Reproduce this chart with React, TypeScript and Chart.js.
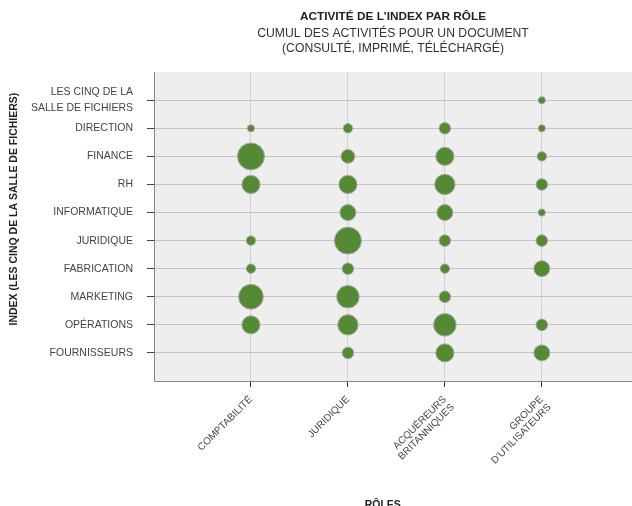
import { useEffect, useRef } from "react";
import { Chart, registerables } from "chart.js";

Chart.register(...registerables);

// Roles (x axis), index names (y axis, top to bottom)
const roles: string[][] = [
  ["COMPTABILITÉ"],
  ["JURIDIQUE"],
  ["ACQUÉREURS", "BRITANNIQUES"],
  ["GROUPE", "D'UTILISATEURS"],
];
const indexes: (string | string[])[] = [
  ["LES CINQ DE LA", "SALLE DE FICHIERS"],
  "DIRECTION",
  "FINANCE",
  "RH",
  "INFORMATIQUE",
  "JURIDIQUE",
  "FABRICATION",
  "MARKETING",
  "OPÉRATIONS",
  "FOURNISSEURS",
];

// Cumulated activity per index (same order as `indexes`), one list per role
const comptabilite = [0, 1, 10, 6, 0, 2, 2, 9, 6, 0];
const juridique = [0, 2, 4, 6, 5, 10, 3, 8, 7, 3];
const acquereurs = [0, 3, 6, 7, 5, 3, 2, 3, 8, 6];
const groupe = [1, 1, 2, 3, 1, 3, 5, 0, 3, 5];

const series = [comptabilite, juridique, acquereurs, groupe];

const FONT = "'Liberation Sans', Arial, sans-serif";
const GREEN = "#558a35";

const plotBg = {
  id: "plotBg",
  beforeDraw(chart: any) {
    const { ctx, chartArea: a } = chart;
    ctx.save();
    ctx.fillStyle = "#eeeeee";
    ctx.fillRect(a.left, a.top, a.right - a.left, a.bottom - a.top);
    ctx.restore();
  },
};

export default function App() {
  const ref = useRef<HTMLCanvasElement | null>(null);

  useEffect(() => {
    document.body.style.margin = "0";
    const n = indexes.length;
    const datasets = series.map((vals, ri) => ({
      label: roles[ri].join(" "),
      data: vals
        .map((v, i) => ({ x: ri + 1, y: n - 1 - i, r: 2.5 + 1.1 * v, v }))
        .filter((p) => p.v > 0),
      backgroundColor: GREEN,
      borderColor: "#a9a9a9",
      borderWidth: 1,
    }));

    const chart = new Chart(ref.current as HTMLCanvasElement, {
      type: "bubble",
      data: { datasets },
      plugins: [plotBg],
      options: {
        responsive: false,
        animation: false,
        events: [],
        layout: { padding: 0, autoPadding: false },
        plugins: {
          legend: { display: false },
          tooltip: { enabled: false },
          title: {
            display: true,
            text: "ACTIVITÉ DE L'INDEX PAR RÔLE",
            fullSize: false,
            color: "#222",
            font: { family: FONT, size: 11.8, weight: "bold" },
            padding: { top: 10, bottom: 2 },
          },
          subtitle: {
            display: true,
            text: ["CUMUL DES ACTIVITÉS POUR UN DOCUMENT", "(CONSULTÉ, IMPRIMÉ, TÉLÉCHARGÉ)"],
            fullSize: false,
            color: "#333",
            font: { family: FONT, size: 12.2, lineHeight: 1.23 },
            padding: { top: 0, bottom: 16 },
          },
        },
        scales: {
          x: {
            type: "linear",
            min: 0,
            max: 4.93,
            afterBuildTicks: (s: any) => {
              s.ticks = roles.map((_, i) => ({ value: i + 1 }));
            },
            afterFit: (s: any) => {
              s.height = 125;
              s.paddingLeft = 0;
              s.paddingRight = 0;
            },
            ticks: {
              autoSkip: false,
              minRotation: 45,
              maxRotation: 45,
              padding: 7,
              color: "#444",
              font: { family: FONT, size: 10, lineHeight: 1.1 },
              callback: (v: any) => roles[Number(v) - 1] ?? "",
            },
            grid: {
              color: "#d0d0d0",
              lineWidth: 1,
              tickColor: "#333",
              tickLength: 6,
            },
            border: { color: "#888", width: 1 },
            title: {
              display: true,
              text: "RÔLES       ",
              color: "#222",
              font: { family: FONT, size: 10.5, weight: "bold" },
              padding: { top: 0, bottom: -5 },
            },
          },
          y: {
            type: "linear",
            min: -1,
            max: 10,
            afterBuildTicks: (s: any) => {
              s.ticks = indexes.map((_, i) => ({ value: i }));
            },
            afterFit: (s: any) => {
              s.width = 154;
              s.paddingTop = 0;
              s.paddingBottom = 0;
            },
            ticks: {
              autoSkip: false,
              padding: 14,
              color: "#444",
              font: { family: FONT, size: 10.5, lineHeight: 1.55 },
              callback: (v: any) => indexes[n - 1 - Number(v)] ?? "",
            },
            grid: {
              color: "#c4c4c4",
              lineWidth: 1,
              tickColor: "#444",
              tickLength: 7,
            },
            border: { color: "#888", width: 1 },
            title: {
              display: true,
              text: "            INDEX (LES CINQ DE LA SALLE DE FICHIERS)",
              color: "#222",
              font: { family: FONT, size: 10.5, weight: "bold" },
              padding: { top: 7.7, bottom: 0 },
            },
          },
        },
      } as any,
    });
    return () => chart.destroy();
  }, []);

  return (
    <div style={{ width: 632, height: 506 }}>
      <canvas ref={ref} width={632} height={506} style={{ display: "block" }} />
    </div>
  );
}
